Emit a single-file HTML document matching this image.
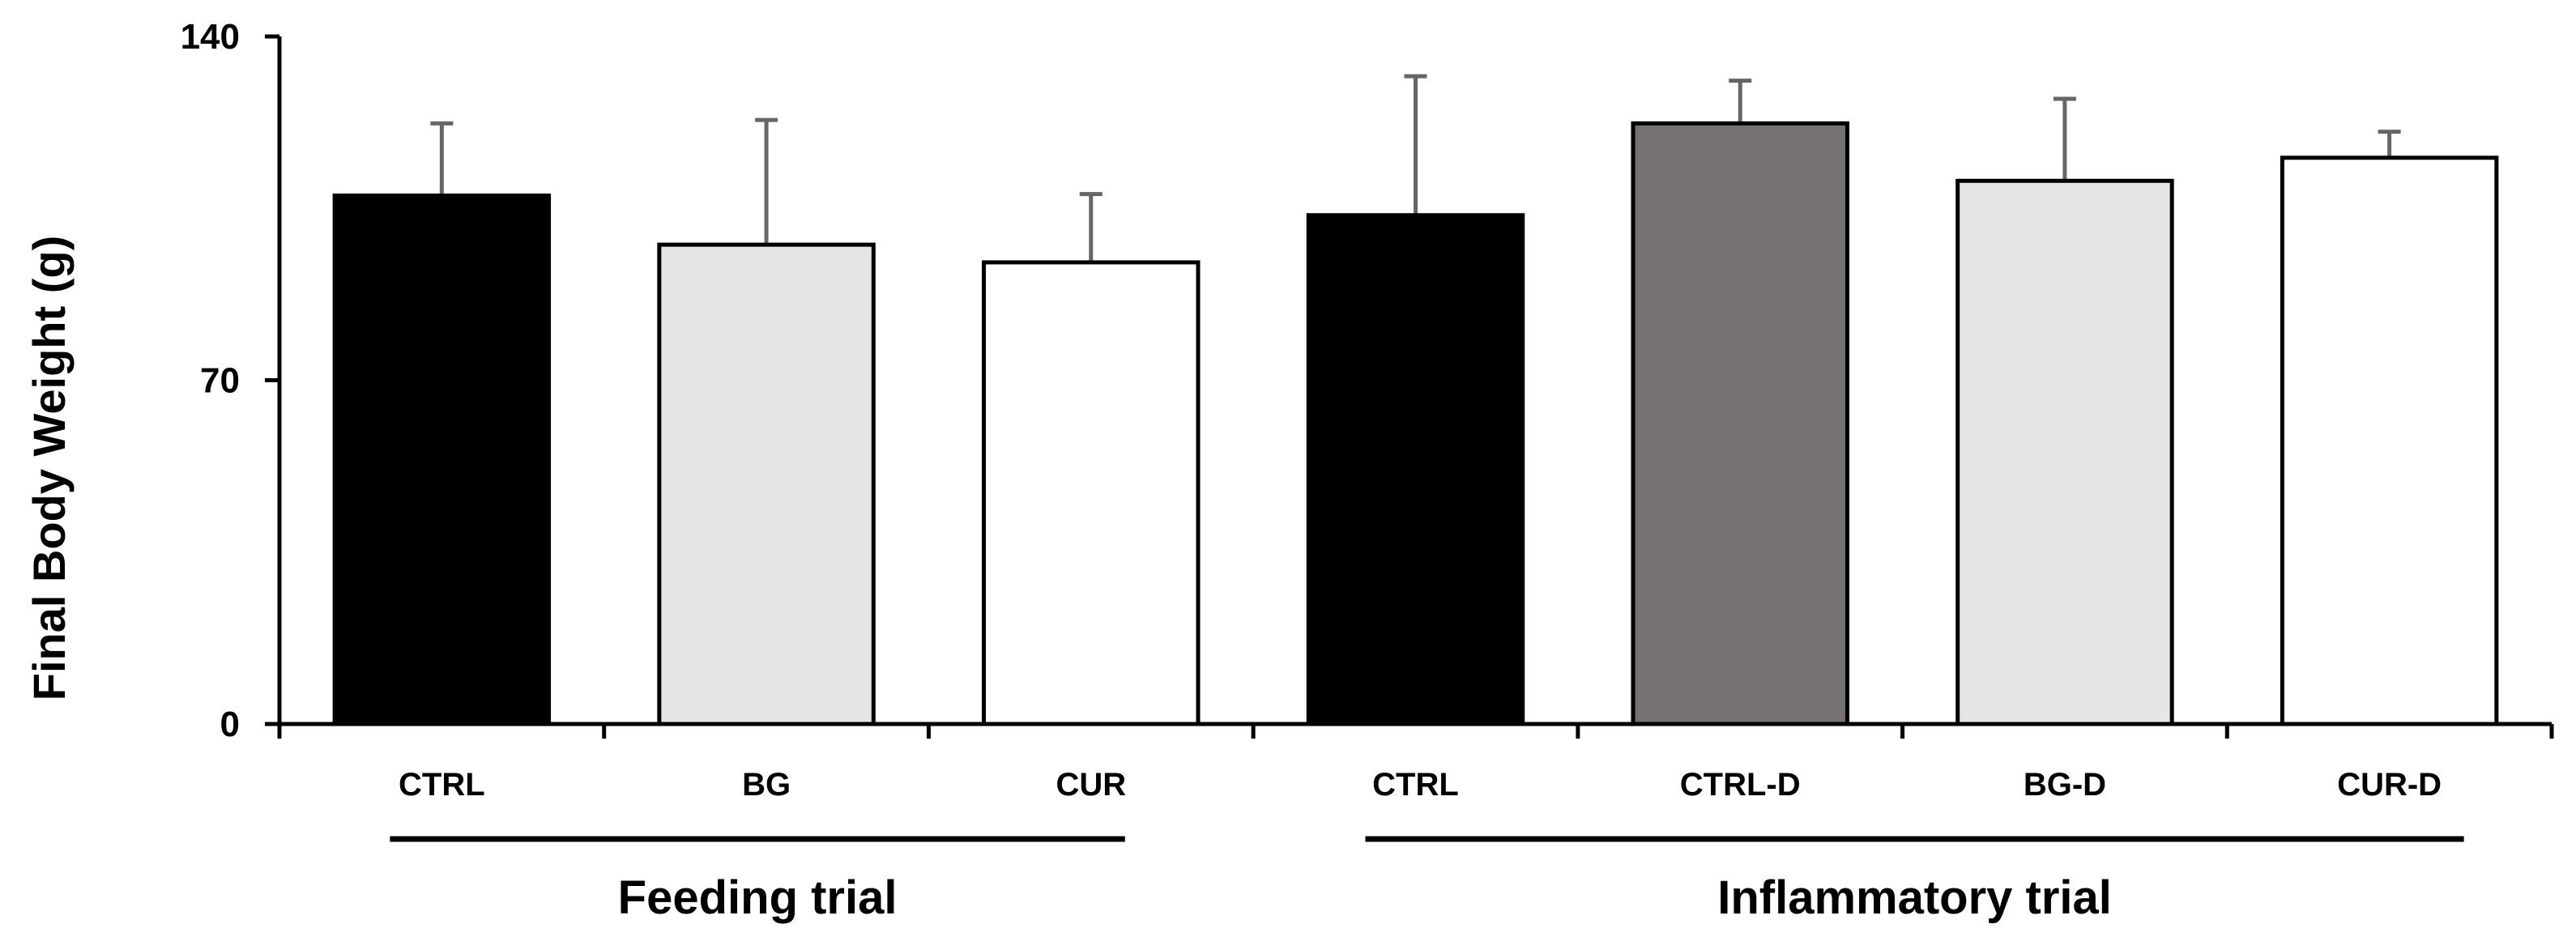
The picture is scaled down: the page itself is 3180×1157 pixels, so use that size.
<!DOCTYPE html>
<html><head><meta charset="utf-8"><style>
html,body{margin:0;padding:0;background:#fff;}
svg{display:block;font-family:"Liberation Sans",sans-serif;}
</style></head><body>
<svg id="chart" width="3180" height="1157" viewBox="0 0 3180 1157" xmlns="http://www.w3.org/2000/svg"></svg>
<script>
const categories = ["CTRL","BG","CUR","CTRL","CTRL-D","BG-D","CUR-D"];
const means = [107.6, 97.6, 94.0, 103.6, 122.3, 110.6, 115.3];
const errors = [14.7, 25.4, 13.9, 28.3, 8.7, 16.7, 5.3];
const fills = ["#000000","#e6e6e6","#ffffff","#000000","#767170","#e6e6e6","#ffffff"];
const yTicks = [0, 70, 140];
const groupNames = ["Feeding trial", "Inflammatory trial"];
const groupFrom = [0, 3];
const groupTo = [2, 6];

const svg = document.getElementById('chart');
const NS = "http://www.w3.org/2000/svg";
const X0 = 345, X1 = 3150, Y0 = 894, Y1 = 45, YMAX = 140;
const groupPadL = [64, 62];
const groupPadR = [42, 92];
const catW = (X1 - X0) / categories.length;
const barW = catW * 0.66;
function y(v){ return Y0 - v / YMAX * (Y0 - Y1); }
function xc(i){ return X0 + catW * (i + 0.5); }
function mk(tag, attrs){ const e = document.createElementNS(NS, tag); for (const k in attrs) e.setAttribute(k, attrs[k]); svg.appendChild(e); return e; }

categories.forEach((c, i) => {
  const top = y(means[i]);
  const eb = y(means[i] + errors[i]);
  const l = mk('line', {x1: xc(i), x2: xc(i), y1: top, y2: eb, stroke: '#666', 'stroke-width': 5});
  
  
  const cap = mk('line', {x1: xc(i) - 14, x2: xc(i) + 14, y1: eb, y2: eb, stroke: '#666', 'stroke-width': 5});
  
  
  const r = mk('rect', {x: xc(i) - barW / 2, y: top, width: barW, height: Y0 - top, fill: fills[i], stroke: '#000', 'stroke-width': 5});
  
  
  const t = mk('text', {x: xc(i), y: 982, 'text-anchor': 'middle', 'font-size': 40, 'font-weight': 'bold', fill: '#000'});
  t.textContent = c;
  
  
});

const ya = mk('line', {x1: X0, x2: X0, y1: Y1, y2: Y0 + 18, stroke: '#000', 'stroke-width': 5});


const xa = mk('line', {x1: X0 - 18, x2: X1, y1: Y0, y2: Y0, stroke: '#000', 'stroke-width': 5});


for (let i = 1; i <= categories.length; i++) {
  const tk = mk('line', {x1: X0 + catW * i, x2: X0 + catW * i, y1: Y0, y2: Y0 + 18, stroke: '#000', 'stroke-width': 5});
  
  
}
yTicks.forEach(v => {
  const tk = mk('line', {x1: X0 - 18, x2: X0, y1: y(v), y2: y(v), stroke: '#000', 'stroke-width': 5});
  
  
  const t = mk('text', {x: 296, y: y(v) + 15, 'text-anchor': 'end', 'font-size': 44, 'font-weight': 'bold', fill: '#000'});
  t.textContent = v;
  
  
});

const yt = mk('text', {x: 0, y: 0, transform: 'translate(80,578) rotate(-90)', 'text-anchor': 'middle', 'font-size': 56, 'font-weight': 'bold', fill: '#000'});
yt.textContent = 'Final Body Weight (g)';



groupNames.forEach((name, k) => {
  const a = xc(groupFrom[k]) - groupPadL[k], b = xc(groupTo[k]) + groupPadR[k];
  const ln = mk('line', {x1: a, x2: b, y1: 1036, y2: 1036, stroke: '#000', 'stroke-width': 7});
  
  
  const t = mk('text', {x: (a + b) / 2, y: 1128, 'text-anchor': 'middle', 'font-size': 58, 'font-weight': 'bold', fill: '#000'});
  t.textContent = name;
  
  
});
</script>
</body></html>
